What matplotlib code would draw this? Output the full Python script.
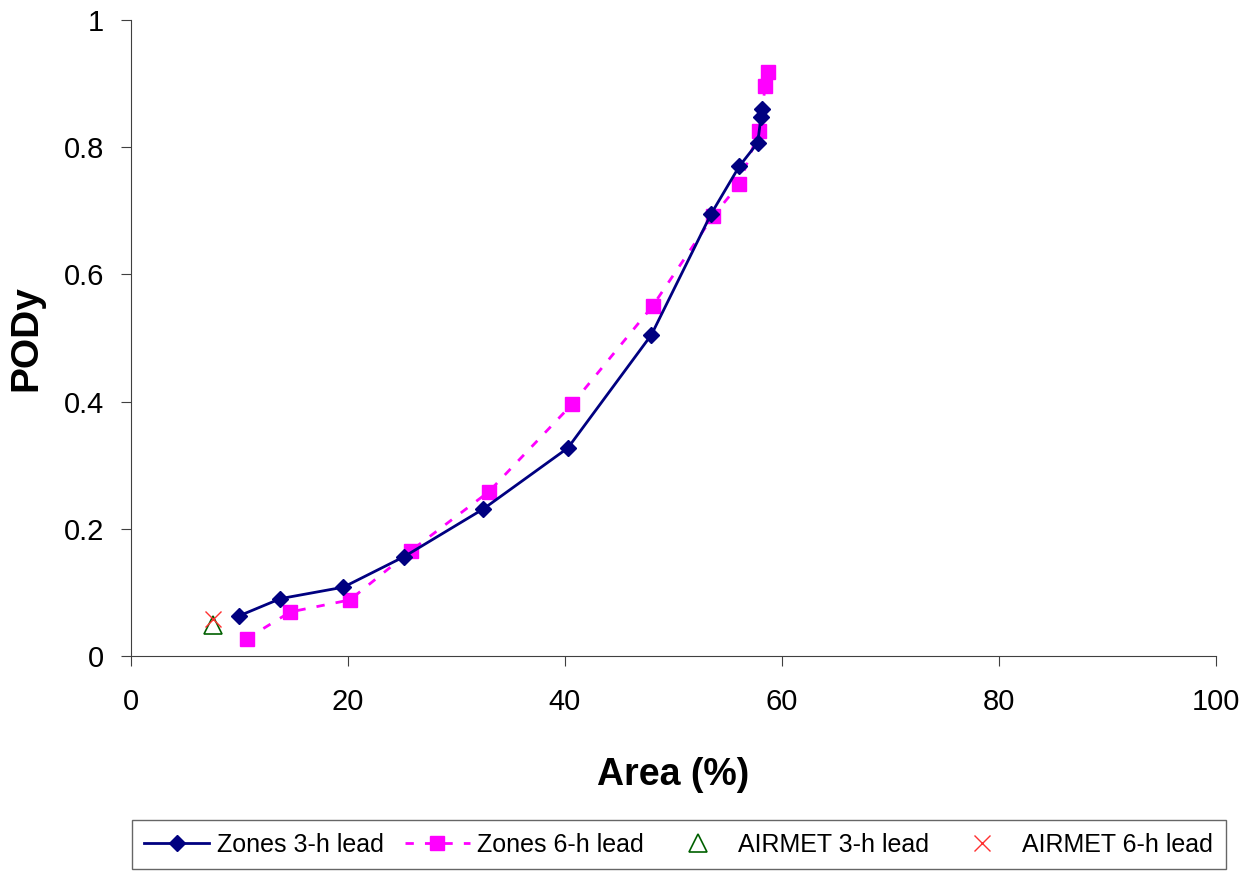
import matplotlib
matplotlib.use("Agg")
import matplotlib.pyplot as plt

plt.rcParams['font.family'] = ['Liberation Sans', 'DejaVu Sans']

# Zones 3-h lead
area_3h = [10.0, 13.8, 19.6, 25.2, 32.5, 40.3, 48.0, 53.5, 56.1, 57.8, 58.1, 58.2]
pody_3h = [0.063, 0.090, 0.108, 0.156, 0.231, 0.327, 0.505, 0.695, 0.770, 0.807, 0.848, 0.860]

# Zones 6-h lead
area_6h = [10.7, 14.7, 20.2, 25.8, 33.0, 40.7, 48.1, 53.7, 56.1, 57.9, 58.5, 58.7]
pody_6h = [0.027, 0.069, 0.088, 0.165, 0.258, 0.396, 0.550, 0.692, 0.742, 0.825, 0.896, 0.918]

# AIRMET points
airmet_3h_area = [7.6]
airmet_3h_pody = [0.048]
airmet_6h_area = [7.6]
airmet_6h_pody = [0.058]

fig = plt.figure(figsize=(12.57, 8.71), dpi=100)
ax = fig.add_axes([0.104, 0.247, 0.863, 0.730])

ax.plot(area_3h, pody_3h, color='#000080', lw=2, marker='D', ms=8,
        label='Zones 3-h lead', zorder=3)
ax.plot(area_6h, pody_6h, color='#FF00FF', lw=2, ls=(0, (3, 4)), marker='s', ms=10,
        label='Zones 6-h lead', zorder=2)
ax.plot(airmet_3h_area, airmet_3h_pody, ls='none', marker='^', ms=13, mfc='none',
        mec='#006000', mew=1.2, label='AIRMET 3-h lead')
ax.plot(airmet_6h_area, airmet_6h_pody, ls='none', marker='x', ms=11,
        mec='#FF3030', mew=1.0, label='AIRMET 6-h lead')

ax.set_xlim(0, 100)
ax.set_ylim(0, 1)
ax.set_xticks([0, 20, 40, 60, 80, 100])
ax.set_yticks([0, 0.2, 0.4, 0.6, 0.8, 1.0])
ax.set_yticklabels(['0', '0.2', '0.4', '0.6', '0.8', '1'])
ax.tick_params(labelsize=21, direction='out', length=7, color='#404040')
ax.tick_params(axis='x', pad=16)
ax.tick_params(axis='y', pad=12)
for s in ['top', 'right']:
    ax.spines[s].set_visible(False)
for s in ['left', 'bottom']:
    ax.spines[s].set_color('#404040')

ax.set_xlabel('Area (%)', fontsize=27, fontweight='bold', labelpad=30)
ax.set_ylabel('PODy', fontsize=28, fontweight='bold', labelpad=14)

leg = fig.legend(loc='lower left', bbox_to_anchor=(0.105, 0.002, 0.870, 0.057),
                 mode='expand', ncol=4, fontsize=18,
                 frameon=True, fancybox=False, edgecolor='#404040', handlelength=2.6,
                 columnspacing=0.6, handletextpad=0.3, borderpad=0.5, borderaxespad=0)
leg.get_frame().set_linewidth(1.0)

fig.savefig('out.png', dpi=100)
